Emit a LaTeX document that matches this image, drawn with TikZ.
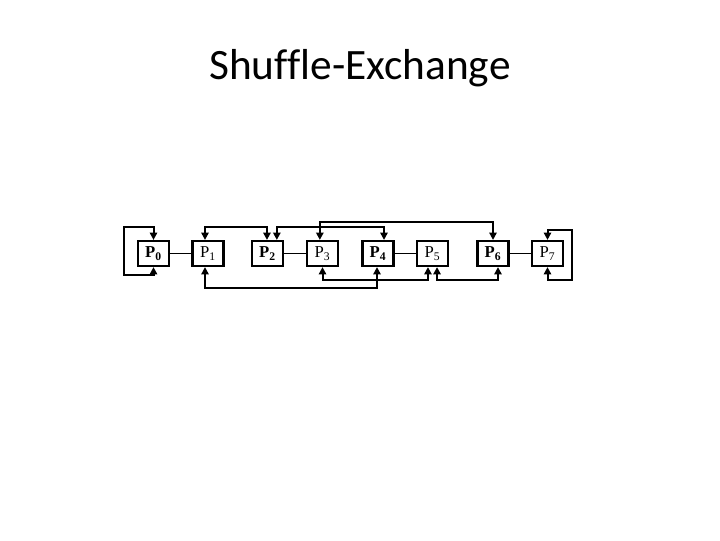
\documentclass[tikz,border=0pt]{standalone}
\usepackage{fontspec}
\setmainfont{Carlito}[Ligatures=NoCommon]
\newfontfamily\labfont{Liberation Serif}
\usetikzlibrary{arrows.meta}
\begin{document}
\begin{tikzpicture}[x=0.75pt,y=-0.75pt,
  pbox/.style={draw=black,line width=1.9pt,minimum width=23pt,minimum height=18.5pt,inner sep=0pt,font=\labfont\fontsize{12.5}{12.5}\selectfont},
  link/.style={line width=1.5pt,{Triangle[length=5.5pt,width=5.5pt]}-{Triangle[length=5.5pt,width=5.5pt]}},
  exch/.style={line width=1.1pt}]
\useasboundingbox (0,0) rectangle (720,540);
\node[anchor=base,font=\fontsize{32.5}{36}\selectfont] (title) at (360,79) {Shuffle-Exchange};
\node[pbox] (p0) at (153.5,253.5) {\bfseries P\textsubscript{0}};
\node[pbox] (p1) at (208,253.5) {P\textsubscript{1}};
\node[pbox] (p2) at (267.5,253.5) {\bfseries P\textsubscript{2}};
\node[pbox] (p3) at (322.5,253.5) {P\textsubscript{3}};
\node[pbox] (p4) at (378,253.5) {\bfseries P\textsubscript{4}};
\node[pbox] (p5) at (432.5,253.5) {P\textsubscript{5}};
\node[pbox] (p6) at (493,253.5) {\bfseries P\textsubscript{6}};
\node[pbox] (p7) at (547.5,253.5) {P\textsubscript{7}};
% exchange
\draw[exch] (p0) -- (p1);
\draw[exch] (p2) -- (p3);
\draw[exch] (p4) -- (p5);
\draw[exch] (p6) -- (p7);
% shuffle loops
\draw[link] (p0.north) -- ++(0,-13) -| ++(-29.5,48) -| (p0.south);
\draw[link] (p7.north) -- ++(0,-9.5) -| ++(24.5,50) -| (p7.south);
% top links
\draw[link] ([xshift=-2.25pt]p1.north) -- ++(0,-13) -| ([xshift=-0.4pt]p2.north);
\draw[link] ([xshift=7pt]p2.north) -- ++(0,-13) -| ([xshift=4.5pt]p4.north);
\draw[link] ([xshift=-2pt]p3.north) -- ++(0,-18) -| (p6.north);
% bottom links
\draw[link] ([xshift=-2.25pt]p1.south) -- ++(0,21) -| ([xshift=-0.75pt]p4.south);
\draw[link] (p3.south) -- ++(0,13) -| ([xshift=-3.4pt]p5.south);
\draw[link] ([xshift=3.4pt]p5.south) -- ++(0,13) -| ([xshift=3.75pt]p6.south);
\end{tikzpicture}
\end{document}
